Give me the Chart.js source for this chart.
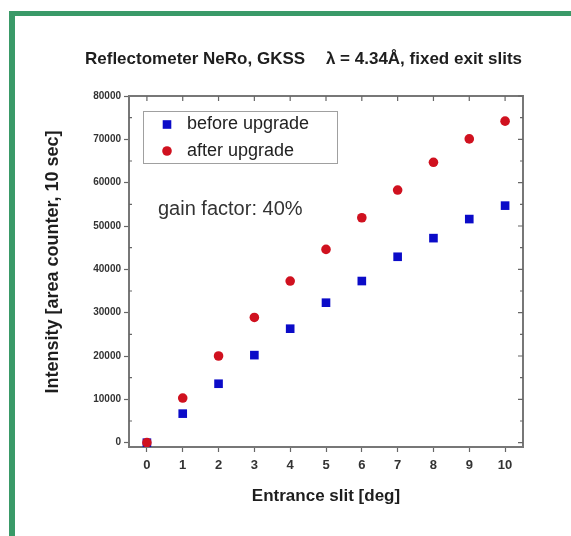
<!DOCTYPE html>
<html><head><meta charset="utf-8">
<script src="https://cdn.jsdelivr.net/npm/chart.js@4.4.0/dist/chart.umd.min.js"></script>
<style>
html,body{margin:0;padding:0;background:#fff;}
#wrap{position:relative;width:571px;height:536px;overflow:hidden;}
#frame{position:absolute;left:9px;top:11px;width:600px;height:600px;border-top:5px solid #3a9a68;border-left:6px solid #3a9a68;}
canvas{position:absolute;left:0;top:0;}
</style></head><body>
<div id="wrap"><div id="frame"></div><canvas id="c" width="571" height="536"></canvas></div>
<script>
// ---- data ----
const categories = [0, 1, 2, 3, 4, 5, 6, 7, 8, 9, 10];          // entrance slit [deg]
const beforeUpgrade = [0, 6700, 13600, 20200, 26300, 32300, 37300, 42900, 47200, 51600, 54700];
const afterUpgrade  = [0, 10300, 20000, 28900, 37300, 44600, 51900, 58300, 64700, 70100, 74200];
const xTickLabels = ['0', '1', '2', '3', '4', '5', '6', '7', '8', '9', '10'];
const yTickValues = [0, 10000, 20000, 30000, 40000, 50000, 60000, 70000, 80000];
const yTickLabels = ['0', '10000', '20000', '30000', '40000', '50000', '60000', '70000', '80000'];
const yMinorValues = [5000, 15000, 25000, 35000, 45000, 55000, 65000, 75000];
const seriesNames = ['before upgrade', 'after upgrade'];
const titleLeft = 'Reflectometer NeRo, GKSS';
const titleRight = 'λ = 4.34Å, fixed exit slits';
const yTitle = 'Intensity [area counter, 10 sec]';
const xTitle = 'Entrance slit [deg]';
const note = 'gain factor: 40%';

const FONT = "'Liberation Sans', Arial, sans-serif";
Chart.defaults.font.family = FONT;

const toPts = (vals) => categories.map((x, i) => ({x: x, y: vals[i]}));

const decor = {
  id: 'decor',
  beforeDatasetsDraw(chart) {
    const ctx = chart.ctx;
    const a = chart.chartArea;
    ctx.save();
    ctx.strokeStyle = '#777';
    ctx.lineWidth = 2;
    ctx.beginPath();
    ctx.moveTo(a.left, a.top); ctx.lineTo(a.right, a.top); ctx.lineTo(a.right, a.bottom);
    ctx.stroke();
    ctx.restore();
  },
  afterDraw(chart) {
    const ctx = chart.ctx;
    const xs = chart.scales.x, ys = chart.scales.y;
    const a = chart.chartArea;
    ctx.save();
    // mirror / minor ticks
    ctx.strokeStyle = '#666';
    ctx.lineWidth = 1.2;
    ctx.beginPath();
    categories.forEach(v => {
      const px = xs.getPixelForValue(v);
      ctx.moveTo(px, a.top); ctx.lineTo(px, a.top + 5);
    });
    yTickValues.forEach(v => {
      const py = ys.getPixelForValue(v);
      ctx.moveTo(a.right, py); ctx.lineTo(a.right - 5, py);
    });
    yMinorValues.forEach(v => {
      const py = ys.getPixelForValue(v);
      ctx.moveTo(a.right, py); ctx.lineTo(a.right - 3, py);
      ctx.moveTo(a.left, py); ctx.lineTo(a.left + 3, py);
    });
    ctx.stroke();

    // title
    ctx.fillStyle = '#1e1e1e';
    ctx.textBaseline = 'middle';
    ctx.font = 'bold 17px ' + FONT;
    ctx.textAlign = 'left';
    ctx.fillText(titleLeft, 85, 59);
    ctx.textAlign = 'right';
    ctx.fillText(titleRight, 522, 59);

    // y title
    ctx.save();
    ctx.translate(53, 262);
    ctx.rotate(-Math.PI / 2);
    ctx.textAlign = 'center';
    ctx.font = 'bold 18px ' + FONT;
    ctx.fillText(yTitle, 0, 0);
    ctx.restore();

    // legend
    ctx.strokeStyle = '#a0a0a0';
    ctx.lineWidth = 1;
    ctx.strokeRect(143.5, 111.5, 194, 52);
    const rows = [124.5, 151];
    chart.data.datasets.slice().sort((p, q) => p.legendIndex - q.legendIndex).forEach((ds, i) => {
      const cy = rows[i];
      ctx.fillStyle = ds.backgroundColor;
      if (ds.pointStyle === 'rect') {
        ctx.fillRect(167 - 4.3, cy - 4.3, 8.6, 8.6);
      } else {
        ctx.beginPath(); ctx.arc(167, cy, 4.8, 0, Math.PI * 2); ctx.fill();
      }
      ctx.fillStyle = '#222';
      ctx.textAlign = 'left';
      ctx.font = '18px ' + FONT;
      ctx.fillText(ds.label, 187, cy);
    });

    // note
    ctx.fillStyle = '#333';
    ctx.font = '20px ' + FONT;
    ctx.fillText(note, 158, 209);
    ctx.restore();
  }
};

new Chart(document.getElementById('c'), {
  type: 'scatter',
  data: {
    datasets: [
      { label: seriesNames[0], legendIndex: 0, data: toPts(beforeUpgrade), pointStyle: 'rect',
        backgroundColor: '#0b0bc8', borderColor: '#0b0bc8', borderWidth: 0, pointRadius: 6.1, pointHoverRadius: 6.1, order: 1 },
      { label: seriesNames[1], legendIndex: 1, data: toPts(afterUpgrade), pointStyle: 'circle',
        backgroundColor: '#d0111f', borderColor: '#d0111f', borderWidth: 0, pointRadius: 4.8, pointHoverRadius: 4.8, order: 0 }
    ]
  },
  options: {
    responsive: false,
    animation: false,
    events: [],
    layout: { padding: { left: 0, right: 48, top: 96, bottom: 0 } },
    plugins: { legend: { display: false }, title: { display: false }, tooltip: { enabled: false } },
    scales: {
      x: {
        type: 'linear', position: 'bottom', min: -0.5, max: 10.5,
        afterBuildTicks: (s) => { s.ticks = categories.map(v => ({ value: v })); },
        afterFit: (s) => { s.height = 89; },
        ticks: { callback: (v, i) => xTickLabels[i], font: { size: 13, weight: 'bold' }, color: '#333', padding: 6, maxRotation: 0, autoSkip: false },
        grid: { display: true, drawOnChartArea: false, drawTicks: true, tickLength: 5, tickColor: '#666', tickWidth: 1.2 },
        border: { display: true, color: '#777', width: 2 },
        title: { display: true, text: xTitle, font: { size: 17, weight: 'bold' }, color: '#1e1e1e', padding: { top: 0, bottom: 29 } }
      },
      y: {
        type: 'linear', position: 'left', min: -1000, max: 80000,
        afterBuildTicks: (s) => { s.ticks = yTickValues.map(v => ({ value: v })); },
        afterFit: (s) => { s.width = 129; },
        ticks: { callback: (v, i) => yTickLabels[i], font: { size: 10, weight: 'bold' }, color: '#333', padding: 3, autoSkip: false },
        grid: { display: true, drawOnChartArea: false, drawTicks: true, tickLength: 5, tickColor: '#666', tickWidth: 1.2 },
        border: { display: true, color: '#777', width: 2 }
      }
    }
  },
  plugins: [decor]
});
</script>
</body></html>
